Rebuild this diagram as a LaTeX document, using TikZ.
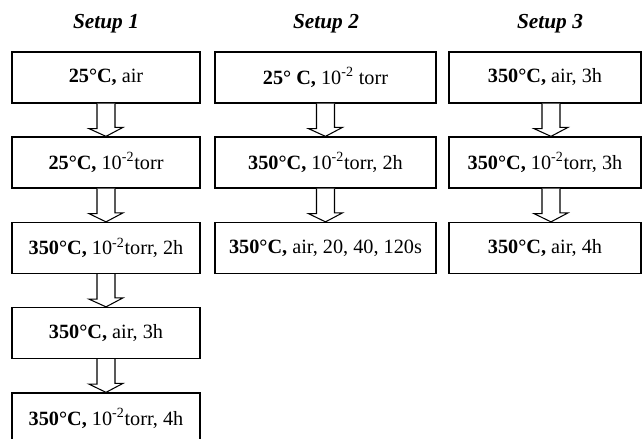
\documentclass[tikz,border=0pt]{standalone}
\usepackage{fontspec}
\setmainfont{Liberation Serif}
\usetikzlibrary{calc}

\begin{document}
\begin{tikzpicture}[x=0.025cm, y=0.025cm, font=\fontsize{14.4}{16}\selectfont,
  bx/.style={draw, line width=0.9pt, minimum height=1.275cm, inner sep=0pt, align=center},
  ttl/.style={anchor=base, font=\fontsize{15.2}{18}\selectfont\bfseries\itshape},
  blk/.style={draw, fill=white, line width=0.75pt, line join=miter}]
\clip (0,0) rectangle (643,-439);
\fill[white] (0,0) rectangle (643,-439);
\foreach \n/\x/\t in {t1/106/Setup 1, t2/326/Setup 2, t3/550/Setup 3}
  \node[ttl] (\n) at (\x,-29) {\t};
% setup 1
\foreach \n/\y/\t in {a1/77.5/{\textbf{25°C,} air},
    a2/162.5/{\textbf{25°C,} 10\textsuperscript{-2}torr},
    a3/248/{\textbf{350°C,} 10\textsuperscript{-2}torr, 2h},
    a4/333/{\textbf{350°C,} air, 3h},
    a5/418.5/{\textbf{350°C,} 10\textsuperscript{-2}torr, 4h}}
  \node[bx, minimum width=4.7cm] (\n) at (106,-\y) {\t};
% setup 2
\foreach \n/\y/\t in {b1/77.5/{\textbf{25° C,} 10\textsuperscript{-2} torr},
    b2/162.5/{\textbf{350°C,} 10\textsuperscript{-2}torr, 2h},
    b3/248/{\textbf{350°C,} air, 20, 40, 120s}}
  \node[bx, minimum width=5.525cm] (\n) at (325.5,-\y) {\t};
% setup 3
\foreach \n/\y/\t in {c1/77.5/{\textbf{350°C,} air, 3h},
    c2/162.5/{\textbf{350°C,} 10\textsuperscript{-2}torr, 3h},
    c3/248/{\textbf{350°C,} air, 4h}}
  \node[bx, minimum width=4.8cm] (\n) at (545,-\y) {\t};
% hollow arrows
\foreach \a/\b/\dx in {a1/a2/0, a2/a3/0, a3/a4/0, a4/a5/0, b1/b2/0, b2/b3/0, c1/c2/6, c2/c3/6} {
  \path ($(\a.south)+(\dx,0)$) coordinate (s) ($(\b.north)+(\dx,0)$) coordinate (e);
  \draw[blk] ($(s)+(-9,0)$) -- ++(0,-25) -- ++(-8,0) -- (e) -- ++(17,9) -- ++(-8,0) -- ($(s)+(9,0)$);
}
\end{tikzpicture}
\end{document}
